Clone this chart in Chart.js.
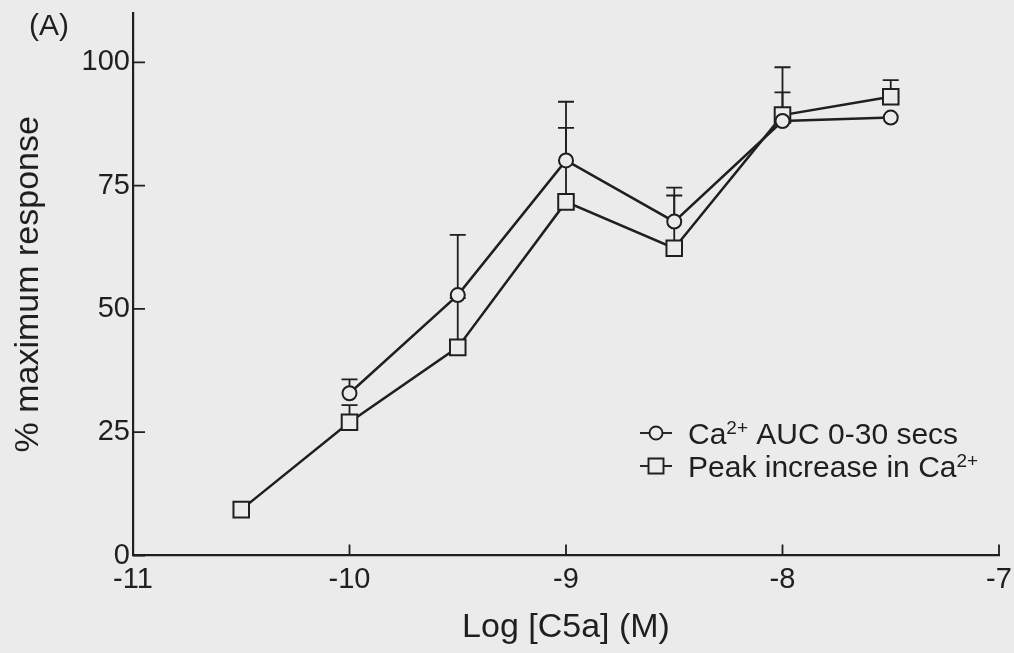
<!DOCTYPE html>
<html>
<head>
<meta charset="utf-8">
<script src="https://cdn.jsdelivr.net/npm/chart.js@4.4.0/dist/chart.umd.min.js"></script>
<style>
  html, body { margin: 0; padding: 0; background: #ebebeb; }
  #wrap { width: 1014px; height: 653px; }
</style>
</head>
<body>
<div id="wrap"><canvas id="chart" width="1014" height="653"></canvas></div>
<script>
// concentrations (log M) and responses, mean + SEM (upper bar only)
const logC5a   = [-10.5, -10, -9.5, -9, -8.5, -8, -7.5];
const aucResp  = [null, 32.9, 52.8, 80.1, 67.7, 88.1, 88.8];
const aucSem   = [null, 2.8, 12.2, 11.9, 6.9, 5.8, 0];
const peakResp = [9.3, 27.0, 42.2, 71.7, 62.3, 89.3, 93.0];
const peakSem  = [0, 3.5, 10.0, 15.0, 10.7, 9.7, 3.4];

const xTicks = [-11, -10, -9, -8, -7];
const yTicks = [0, 25, 50, 75, 100];

const ink = "#1f1f1f";
const paper = "#ebebeb";
const family = "'Liberation Sans', Arial, sans-serif";

function toPoints(vals) {
  return logC5a.map((x, i) => ({ x: x, y: vals[i] })).filter(p => p.y !== null);
}

// plain background for the whole canvas
const paperBg = {
  id: "paperBg",
  beforeDraw(chart) {
    const ctx = chart.ctx;
    ctx.save();
    ctx.fillStyle = paper;
    ctx.fillRect(0, 0, chart.width, chart.height);
    ctx.restore();
  }
};

// upward error bars, drawn under the lines so the markers cover them
const errorBars = {
  id: "errorBars",
  beforeDatasetsDraw(chart) {
    const { ctx, scales: { x, y } } = chart;
    ctx.save();
    ctx.strokeStyle = ink;
    ctx.lineWidth = 1.8;
    [[aucResp, aucSem], [peakResp, peakSem]].forEach(([vals, sem]) => {
      vals.forEach((v, i) => {
        if (v === null || !sem[i]) return;
        const px = x.getPixelForValue(logC5a[i]);
        const y0 = y.getPixelForValue(v);
        const y1 = y.getPixelForValue(v + sem[i]);
        ctx.beginPath();
        ctx.moveTo(px, y0);
        ctx.lineTo(px, y1);
        ctx.moveTo(px - 8, y1);
        ctx.lineTo(px + 8, y1);
        ctx.stroke();
      });
    });
    ctx.restore();
  }
};

// tick marks point into the plot
const innerTicks = {
  id: "innerTicks",
  afterDatasetsDraw(chart) {
    const { ctx, scales: { x, y } } = chart;
    const left = x.left, bottom = y.bottom;
    ctx.save();
    ctx.strokeStyle = ink;
    ctx.lineWidth = 1.8;
    ctx.beginPath();
    yTicks.forEach(v => {
      const py = y.getPixelForValue(v);
      ctx.moveTo(left, py);
      ctx.lineTo(left + 12, py);
    });
    xTicks.forEach(v => {
      const px = x.getPixelForValue(v);
      ctx.moveTo(px, bottom);
      ctx.lineTo(px, bottom - 11);
    });
    ctx.stroke();
    ctx.restore();
  }
};

// text with a raised "2+"
function drawRich(ctx, parts, x, y) {
  let cx = x;
  parts.forEach(([txt, sup]) => {
    ctx.font = sup ? "19px " + family : "30px " + family;
    ctx.fillText(txt, cx, sup ? y - 10 : y);
    cx += ctx.measureText(txt).width;
  });
}

const legendRows = [
  { style: "circle", parts: [["Ca", false], ["2+", true], [" AUC 0-30 secs", false]] },
  { style: "rect", parts: [["Peak increase in Ca", false], ["2+", true]] }
];

const legendAndPanel = {
  id: "legendAndPanel",
  afterDraw(chart) {
    const ctx = chart.ctx;
    ctx.save();
    ctx.fillStyle = ink;
    ctx.strokeStyle = ink;
    ctx.textBaseline = "alphabetic";
    ctx.textAlign = "left";

    ctx.font = "30px " + family;
    ctx.fillText("(A)", 29, 35);

    legendRows.forEach((row, i) => {
      const cy = 433 + i * 33;
      ctx.lineWidth = 1.9;
      ctx.beginPath();
      ctx.moveTo(640, cy);
      ctx.lineTo(672, cy);
      ctx.stroke();
      ctx.fillStyle = paper;
      ctx.beginPath();
      if (row.style === "circle") ctx.arc(656, cy, 6.5, 0, Math.PI * 2);
      else ctx.rect(648.5, cy - 7.5, 15, 15);
      ctx.fill();
      ctx.stroke();
      ctx.fillStyle = ink;
      drawRich(ctx, row.parts, 688, cy + 11);
    });
    ctx.restore();
  }
};

new Chart(document.getElementById("chart"), {
  type: "line",
  data: {
    datasets: [
      {
        label: "Ca2+ AUC 0-30 secs",
        data: toPoints(aucResp),
        borderColor: ink,
        borderWidth: 2.5,
        pointStyle: "circle",
        pointRadius: 7,
        pointBorderWidth: 2,
        pointBackgroundColor: paper,
        pointBorderColor: ink,
        tension: 0
      },
      {
        label: "Peak increase in Ca2+",
        data: toPoints(peakResp),
        borderColor: ink,
        borderWidth: 2.5,
        pointStyle: "rect",
        pointRadius: 11,
        pointBorderWidth: 2,
        pointBackgroundColor: paper,
        pointBorderColor: ink,
        tension: 0
      }
    ]
  },
  options: {
    responsive: false,
    animation: false,
    layout: { padding: { left: 0, top: 13, right: 15, bottom: 0 } },
    plugins: {
      legend: { display: false },
      tooltip: { enabled: false }
    },
    scales: {
      x: {
        type: "linear",
        min: -11,
        max: -7,
        afterBuildTicks: s => { s.ticks = xTicks.map(v => ({ value: v })); },
        afterFit: s => {
          s.height = 97.5;
          s.paddingLeft = 0;
          s.paddingRight = 0;
        },
        grid: { display: false, drawTicks: false },
        border: { display: true, color: ink, width: 2.2 },
        ticks: { color: ink, padding: 7, maxRotation: 0, font: { family: family, size: 29 } },
        title: {
          display: true,
          text: "Log [C5a] (M)",
          color: ink,
          font: { family: family, size: 34 },
          padding: { top: 0, bottom: 5 }
        }
      },
      y: {
        min: 0,
        max: 110,
        afterBuildTicks: s => { s.ticks = yTicks.map(v => ({ value: v })); },
        afterFit: s => {
          s.width = 133;
          s.paddingTop = 0;
          s.paddingBottom = 0;
        },
        grid: { display: false, drawTicks: false },
        border: { display: true, color: ink, width: 2.2 },
        ticks: { color: ink, padding: 3, font: { family: family, size: 29 } },
        title: {
          display: true,
          text: "% maximum response",
          color: ink,
          font: { family: family, size: 34 },
          padding: { top: 8, bottom: 0 }
        }
      }
    }
  },
  plugins: [paperBg, errorBars, innerTicks, legendAndPanel]
});
</script>
</body>
</html>
